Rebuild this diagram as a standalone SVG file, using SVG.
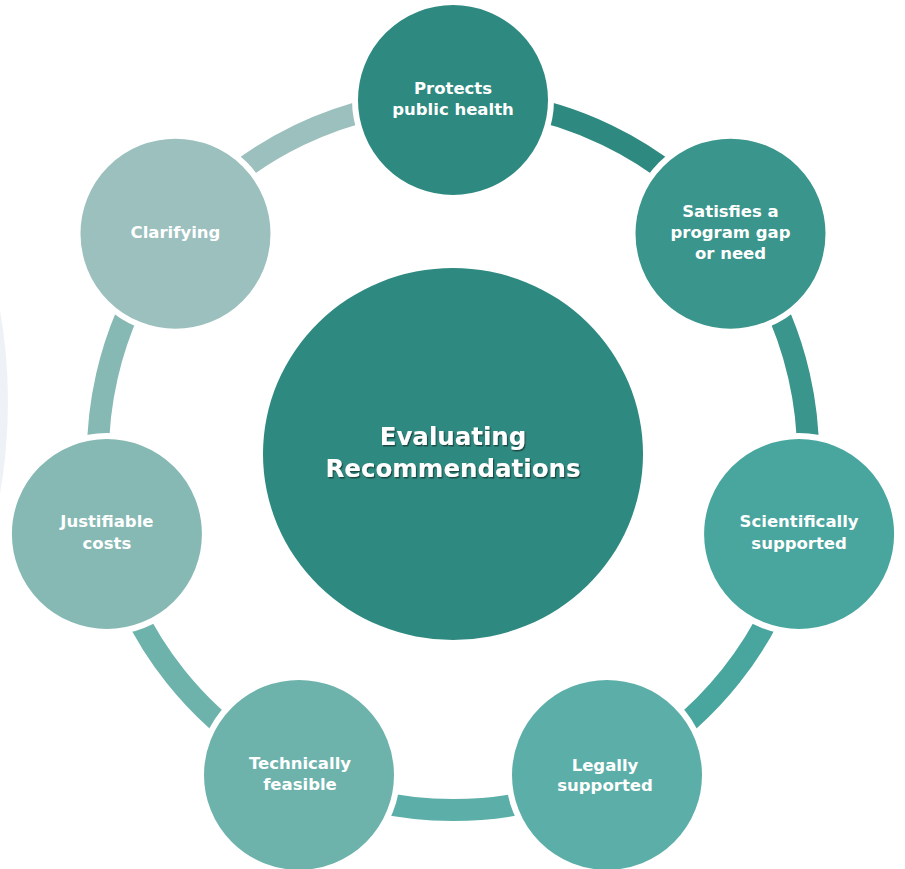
<svg xmlns="http://www.w3.org/2000/svg" width="905" height="869" viewBox="0 0 905 869">
<defs>
<style>
.seg{fill:none;stroke-width:22}
.node{stroke:#ffffff;stroke-width:6}
.lbl{font-family:"DejaVu Sans","Liberation Sans",sans-serif;font-weight:bold;font-size:16.5px;fill:#ffffff;text-anchor:middle}
.big{font-family:"DejaVu Sans","Liberation Sans",sans-serif;font-weight:bold;font-size:24.5px;fill:#ffffff;text-anchor:middle}
</style>
<filter id="sh" x="-10%" y="-30%" width="120%" height="160%">
<feDropShadow dx="1.2" dy="1.5" stdDeviation="0.7" flood-color="#123f3a" flood-opacity="0.85"/>
</filter>
</defs>
<rect width="905" height="869" fill="#ffffff"/>
<circle cx="-525" cy="402" r="533" fill="#eef2f6"/>
<g id="connectors">
<path class="seg" stroke="#2e8a80" d="M453,100 A355,355 0 0 1 730.5,233.7"/>
<path class="seg" stroke="#3a958c" d="M730.5,233.7 A355,355 0 0 1 799.1,534"/>
<path class="seg" stroke="#49a69e" d="M799.1,534 A355,355 0 0 1 607,774.9"/>
<path class="seg" stroke="#5cafa8" d="M607,774.9 A355,355 0 0 1 299,774.9"/>
<path class="seg" stroke="#6db3ac" d="M299,774.9 A355,355 0 0 1 106.9,534"/>
<path class="seg" stroke="#86b9b4" d="M106.9,534 A355,355 0 0 1 175.5,233.7"/>
<path class="seg" stroke="#9bc0be" d="M175.5,233.7 A355,355 0 0 1 453,100"/>
</g>
<g id="center">
<ellipse cx="453" cy="454" rx="190" ry="186" fill="#2e8980"/>
<g filter="url(#sh)">
<text class="big" x="453" y="445">Evaluating</text>
<text class="big" x="453" y="477">Recommendations</text>
</g>
</g>
<g id="protects">
<circle class="node" cx="453" cy="100" r="98" fill="#2e8a80"/>
<text class="lbl" x="453" y="94">Protects</text>
<text class="lbl" x="453" y="115">public health</text>
</g>
<g id="satisfies">
<circle class="node" cx="730.5" cy="233.7" r="98" fill="#3a958c"/>
<text class="lbl" x="730.5" y="217">Satisfies a</text>
<text class="lbl" x="730.5" y="238">program gap</text>
<text class="lbl" x="730.5" y="259">or need</text>
</g>
<g id="scientifically">
<circle class="node" cx="799.1" cy="534" r="98" fill="#49a69e"/>
<text class="lbl" x="799.1" y="527">Scientifically</text>
<text class="lbl" x="799.1" y="549">supported</text>
</g>
<g id="legally">
<circle class="node" cx="607" cy="774.9" r="98" fill="#5cafa8"/>
<text class="lbl" x="605" y="771">Legally</text>
<text class="lbl" x="605" y="791">supported</text>
</g>
<g id="technically">
<circle class="node" cx="299" cy="774.9" r="98" fill="#6db3ac"/>
<text class="lbl" x="300" y="769">Technically</text>
<text class="lbl" x="300" y="790">feasible</text>
</g>
<g id="justifiable">
<circle class="node" cx="106.9" cy="534" r="98" fill="#86b9b4"/>
<text class="lbl" x="106.9" y="527">Justifiable</text>
<text class="lbl" x="106.9" y="549">costs</text>
</g>
<g id="clarifying">
<circle class="node" cx="175.5" cy="233.7" r="98" fill="#9bc0be"/>
<text class="lbl" x="175.5" y="238">Clarifying</text>
</g>
</svg>
